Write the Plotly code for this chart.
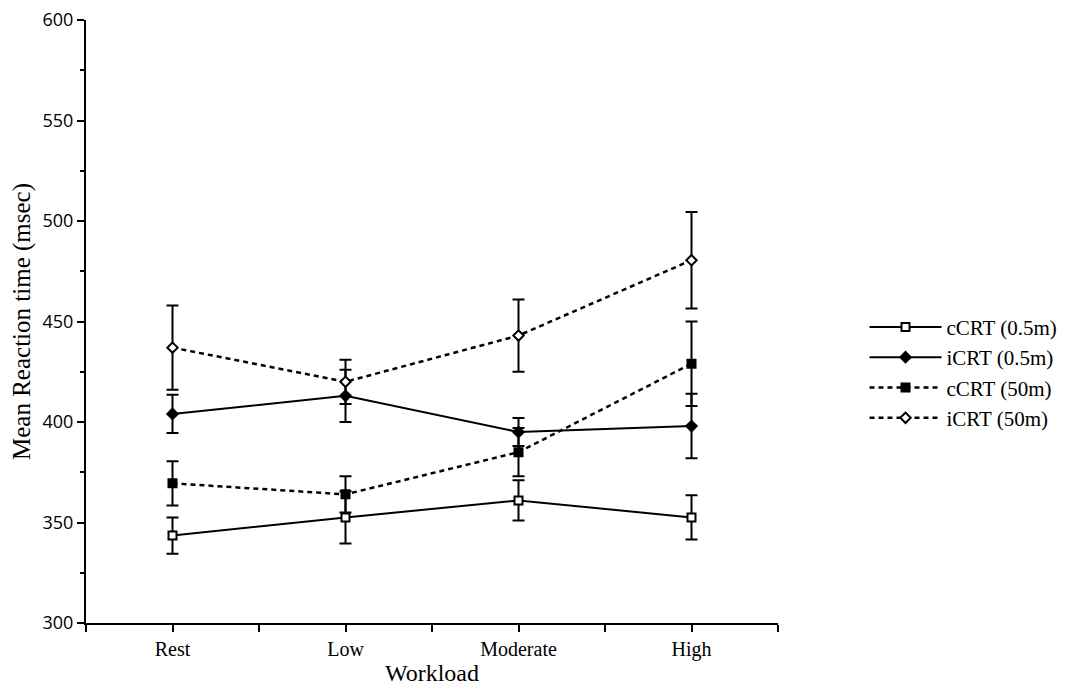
import plotly.graph_objects as go

categories = ["Rest", "Low", "Moderate", "High"]

series_names = ["cCRT (0.5m)", "iCRT (0.5m)", "cCRT (50m)", "iCRT (50m)"]

ccrt_05 = [343.5, 352.5, 361.0, 352.5]
ccrt_05_err = [9.0, 13.0, 10.0, 11.0]

icrt_05 = [404.0, 413.0, 395.0, 398.0]
icrt_05_err = [9.5, 13.0, 7.0, 16.0]

ccrt_50 = [369.5, 364.0, 385.0, 429.0]
ccrt_50_err = [11.0, 9.0, 12.0, 21.0]

icrt_50 = [437.0, 420.0, 443.0, 480.5]
icrt_50_err = [21.0, 11.0, 18.0, 24.0]

y_ticks = [300, 350, 400, 450, 500, 550, 600]

x_pos = list(range(len(categories)))

serif = "Liberation Serif, Times New Roman, serif"

styles = [
    dict(dash="solid", symbol="square", fill="white", width=2),
    dict(dash="solid", symbol="diamond", fill="black", width=2),
    dict(dash="5px,4px", symbol="square", fill="black", width=2.5),
    dict(dash="5px,4px", symbol="diamond", fill="white", width=2.5),
]
values = [ccrt_05, icrt_05, ccrt_50, icrt_50]
errors = [ccrt_05_err, icrt_05_err, ccrt_50_err, icrt_50_err]

fig = go.Figure()
for name, vals, errs, st in zip(series_names, values, errors, styles):
    fig.add_trace(go.Scatter(
        x=x_pos, y=vals, name=name, mode="lines+markers",
        line=dict(color="black", width=st["width"], dash=st["dash"]),
        marker=dict(symbol=st["symbol"], size=8, color=st["fill"],
                    line=dict(color="black", width=2)),
        error_y=dict(type="data", array=errs, visible=True, color="black",
                     thickness=2, width=6),
    ))

# tick positions every half category, labels only at categories
tickvals = []
ticktext = []
for i, c in enumerate(categories):
    tickvals += [i - 0.5, i]
    ticktext += ["", c]
tickvals.append(len(categories) - 0.5)
ticktext.append("")

fig.update_layout(
    width=1088, height=691,
    paper_bgcolor="white", plot_bgcolor="white",
    margin=dict(l=78, r=318, t=12, b=76),
    showlegend=True,
    legend=dict(x=1.125, y=0.415, xanchor="left", yanchor="middle",
                font=dict(family=serif, size=21, color="black"),
                bgcolor="rgba(0,0,0,0)", tracegroupgap=0, itemwidth=72),
    font=dict(family=serif, color="black"),
)

fig.update_xaxes(
    range=[-0.5, len(categories) - 0.5],
    tickmode="array", tickvals=tickvals, ticktext=ticktext,
    ticks="outside", ticklen=7, tickwidth=2, tickcolor="black",
    showline=True, linecolor="black", linewidth=2,
    showgrid=False, zeroline=False, automargin=False,
    ticklabeloverflow="allow",
    tickfont=dict(family=serif, size=20, color="black"),
    title=dict(text="Workload", font=dict(family=serif, size=24, color="black"), standoff=4),
)

fig.update_yaxes(
    range=[300, 600],
    tickmode="array", tickvals=y_ticks,
    ticks="outside", ticklen=7, tickwidth=2, tickcolor="black",
    minor=dict(dtick=25, tick0=300, ticks="outside", ticklen=4, tickwidth=2, tickcolor="black"),
    showline=True, linecolor="black", linewidth=2,
    showgrid=False, zeroline=False, automargin=False,
    ticklabeloverflow="allow",
    tickfont=dict(family="Open Sans, DejaVu Sans, sans-serif", size=18, color="black"),
    title=dict(text="Mean Reaction time (msec)", font=dict(family=serif, size=25, color="black"), standoff=12),
)

fig.write_html("out.html")
